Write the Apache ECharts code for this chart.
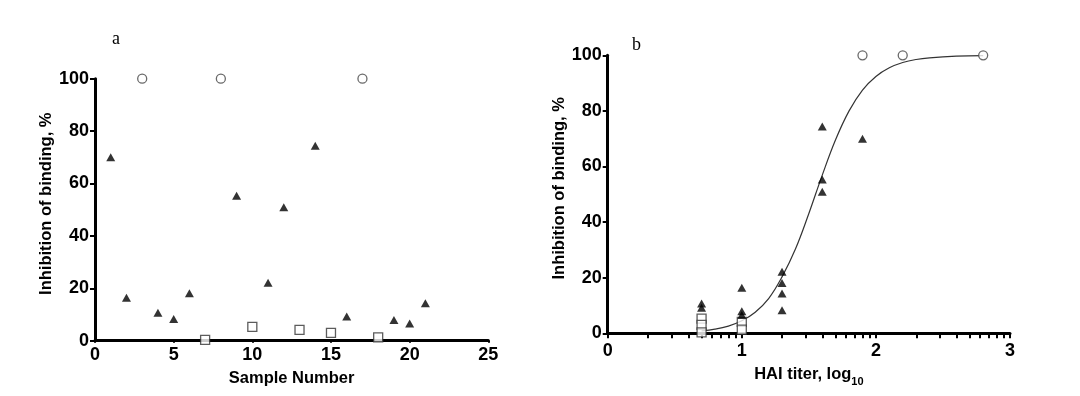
<!DOCTYPE html>
<html>
<head>
<meta charset="utf-8">
<script src="https://cdn.jsdelivr.net/npm/echarts@6/dist/echarts.min.js"></script>
<style>
  html, body { margin: 0; padding: 0; background: #fff; }
  #chart { width: 1080px; height: 396px; }
</style>
</head>
<body>
<div id="chart"></div>
<script>
// ---- Panel a: inhibition by sample number ----
const aTriX = [1, 2, 4, 5, 6, 9, 11, 12, 14, 16, 19, 20, 21];
const aTriY = [70, 16.4, 10.7, 8.3, 18.1, 55.3, 22.1, 50.9, 74.4, 9.2, 7.9, 6.6, 14.3];
const aCircX = [3, 8, 17];
const aCircY = [100, 100, 100];
const aSqX = [7, 10, 13, 15, 18];
const aSqY = [0.3, 5.3, 4.1, 3.0, 1.3];
const aXTicks = [0, 5, 10, 15, 20, 25];
const yTicks = [0, 20, 40, 60, 80, 100];

// ---- Panel b: inhibition vs HAI titer (log10) ----
const bTriX = [0.7, 0.7, 1.0, 1.0, 1.0, 1.3, 1.3, 1.3, 1.3, 1.6, 1.6, 1.6, 1.9];
const bTriY = [10.7, 9.2, 16.4, 7.9, 6.6, 22.1, 18.1, 14.3, 8.3, 74.4, 55.3, 50.9, 70];
const bCircX = [1.9, 2.2, 2.8];
const bCircY = [100, 100, 100];
const bSqX = [0.7, 0.7, 0.7, 1.0, 1.0];
const bSqY = [5.3, 3.0, 0.3, 4.1, 1.3];
// fitted curve, points
const curveX = [0.7, 0.8, 0.9, 1.0, 1.1, 1.2, 1.3, 1.4, 1.5, 1.6, 1.7, 1.8, 1.9, 2.0, 2.1, 2.2, 2.3, 2.4, 2.6, 2.8];
const curveY = [0.9, 1.5, 2.6, 4.5, 7.6, 12.5, 20.3, 30.3, 43.1, 56.9, 69.7, 80.0, 87.5, 92.4, 95.5, 97.4, 98.5, 99.1, 99.7, 99.9];
const bXLabels = [0, 1, 2, 3];
const bXTickMarks = [0, 0.301, 0.477, 0.602, 0.699, 0.778, 0.845, 0.903, 0.954,
  1, 1.301, 1.477, 1.602, 1.699, 1.778, 1.845, 1.903, 1.954,
  2, 2.301, 2.477, 2.602, 2.699, 2.778, 2.845, 2.903, 2.954, 3];

const zip = (xs, ys) => xs.map((x, i) => [x, ys[i]]);

const FONT = '"Liberation Sans", Arial, sans-serif';
const labelStyle = { color: '#000', fontFamily: FONT, fontWeight: 'bold', fontSize: 18 };
const nameStyleBase = { color: '#000', fontFamily: FONT, fontWeight: 'bold', fontSize: 16.5 };
const axisLine = { show: true, onZero: false, lineStyle: { color: '#000', width: 3 } };

const triStyle = { color: '#000' };
const circStyle = { color: '#fff', borderColor: '#444', borderWidth: 1.3 };
const sqStyle = { color: '#fff', borderColor: '#333', borderWidth: 1.3 };

function scatter(xi, data, symbol, size, style, z) {
  return {
    type: 'scatter', xAxisIndex: xi, yAxisIndex: xi, data: data,
    symbol: symbol, symbolSize: size, itemStyle: style, clip: false, z: z || 3,
    emphasis: { disabled: true }, silent: true
  };
}

const chart = echarts.init(document.getElementById('chart'), null, { renderer: 'canvas' });
chart.setOption({
  animation: false,
  backgroundColor: '#fff',
  graphic: [
    { type: 'text', left: 112, top: 30, style: { text: 'a', font: '18px "Liberation Serif", "Times New Roman", serif', fill: '#000' } },
    { type: 'text', left: 632, top: 36, style: { text: 'b', font: '18px "Liberation Serif", "Times New Roman", serif', fill: '#000' } }
  ],
  grid: [
    { left: 95, top: 78.7, width: 393.3, height: 262 },
    { left: 607.7, top: 55.3, width: 402.3, height: 278 }
  ],
  xAxis: [
    {
      gridIndex: 0, type: 'value', min: 0, max: 25, interval: 5,
      axisLine: axisLine, splitLine: { show: false },
      axisTick: { show: true, length: 2, lineStyle: { color: '#000', width: 2 } },
      axisLabel: { margin: 5, ...labelStyle },
      name: 'Sample Number', nameLocation: 'middle', nameGap: 29, nameTextStyle: nameStyleBase
    },
    {
      gridIndex: 1, type: 'value', min: 0, max: 3, interval: 1,
      axisLine: axisLine, splitLine: { show: false },
      axisTick: { show: true, length: 5, customValues: bXTickMarks, lineStyle: { color: '#000', width: 2 } },
      axisLabel: { margin: 9, customValues: bXLabels, ...labelStyle },
      name: '{a|HAI titer, log}{s|10}', nameLocation: 'middle', nameGap: 33,
      nameTextStyle: {
        ...nameStyleBase,
        rich: {
          a: { ...nameStyleBase, lineHeight: 20, verticalAlign: 'top' },
          s: { color: '#000', fontFamily: FONT, fontWeight: 'bold', fontSize: 11, lineHeight: 11, verticalAlign: 'top', padding: [10, 0, 0, 0] }
        }
      }
    }
  ],
  yAxis: [0, 1].map(i => ({
    gridIndex: i, type: 'value', min: 0, max: 100, interval: 20,
    axisLine: axisLine, splitLine: { show: false },
    axisTick: { show: true, length: 5, lineStyle: { color: '#000', width: 2 } },
    axisLabel: { margin: 6, ...labelStyle },
    name: 'Inhibition of binding, %', nameLocation: 'middle', nameGap: i === 0 ? 36 : 38,
    nameTextStyle: { ...nameStyleBase, padding: [0, 0, 0, 12] }
  })),
  series: [
    scatter(0, zip(aCircX, aCircY), 'circle', 9, circStyle),
    scatter(0, zip(aSqX, aSqY), 'rect', 9, sqStyle),
    scatter(0, zip(aTriX, aTriY), 'triangle', [9, 8], triStyle, 4),
    {
      type: 'line', xAxisIndex: 1, yAxisIndex: 1, data: zip(curveX, curveY),
      smooth: 0.4, showSymbol: false, symbol: 'none', clip: false,
      lineStyle: { color: '#333', width: 1.2 }, silent: true, z: 2
    },
    scatter(1, zip(bCircX, bCircY), 'circle', 9, circStyle),
    scatter(1, zip(bSqX, bSqY), 'rect', 9, sqStyle),
    scatter(1, zip(bTriX, bTriY), 'triangle', [9, 8], triStyle, 4)
  ]
});
</script>
</body>
</html>
